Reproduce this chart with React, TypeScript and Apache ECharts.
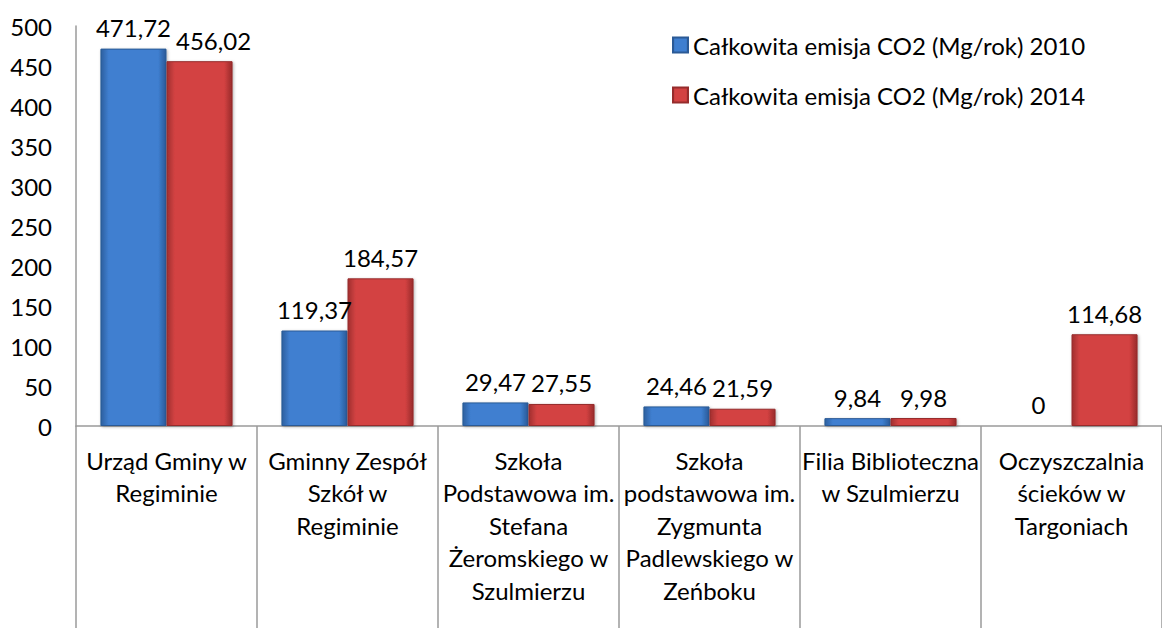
import React, { useEffect, useRef } from "react";
import * as echarts from "echarts";

const categories = [
  "Urząd Gminy w\nRegiminie",
  "Gminny Zespół\nSzkół w\nRegiminie",
  "Szkoła\nPodstawowa im.\nStefana\nŻeromskiego w\nSzulmierzu",
  "Szkoła\npodstawowa im.\nZygmunta\nPadlewskiego w\nZeńboku",
  "Filia Biblioteczna\nw Szulmierzu",
  "Oczyszczalnia\nścieków w\nTargoniach",
];
const series2010 = [471.72, 119.37, 29.47, 24.46, 9.84, 0];
const series2014 = [456.02, 184.57, 27.55, 21.59, 9.98, 114.68];
const seriesNames = [
  "Całkowita emisja CO2 (Mg/rok) 2010",
  "Całkowita emisja CO2 (Mg/rok) 2014",
];

const FONT = "Lato";
const FS = 24;

const fmt = (v: number) => String(v).replace(".", ",");

const grad = (edge: string, mid: string, edge2: string) =>
  new echarts.graphic.LinearGradient(0, 0, 1, 0, [
    { offset: 0, color: edge },
    { offset: 0.12, color: mid },
    { offset: 0.88, color: mid },
    { offset: 1, color: edge2 },
  ]);

export default function App() {
  const ref = useRef<HTMLDivElement>(null);
  useEffect(() => {
    if (!ref.current) return;
    const chart = echarts.init(ref.current, undefined, { renderer: "svg" });
    const labelCfg = {
      show: true,
      position: "top" as const,
      distance: 9,
      fontFamily: FONT,
      fontSize: FS,
      color: "#000",
      formatter: (p: any) => fmt(p.value),
    };
    // Excel nudged the first 2014 label right to avoid overlap
    const data2014 = series2014.map((v, i) =>
      i === 0 ? { value: v, label: { offset: [14, 0] } } : v
    );
    chart.setOption({
      animation: false,
      textStyle: { fontFamily: FONT },
      legend: {
        orient: "vertical",
        left: 667,
        top: 27,
        itemWidth: 15,
        itemHeight: 15,
        itemGap: 24,
        icon: "rect",
        textStyle: { fontFamily: FONT, fontSize: FS, color: "#000", lineHeight: 26 },
        data: seriesNames,
      },
      grid: { left: 76, right: 0, top: 26, bottom: 202, containLabel: false },
      xAxis: {
        type: "category",
        data: categories,
        axisLine: { show: true, lineStyle: { color: "#9a9a9a", width: 1.5 } },
        axisTick: { show: true, length: 202, lineStyle: { color: "#9a9a9a", width: 1.5 } },
        axisLabel: {
          interval: 0,
          margin: 18,
          fontFamily: FONT,
          fontSize: FS,
          lineHeight: 32.5,
          color: "#000",
        },
      },
      yAxis: {
        type: "value",
        min: 0,
        max: 500,
        interval: 50,
        axisLine: { show: true, lineStyle: { color: "#9a9a9a", width: 1.5 } },
        axisTick: { show: false },
        splitLine: { show: false },
        axisLabel: { margin: 24, fontFamily: FONT, fontSize: FS, color: "#000" },
      },
      series: [
        {
          name: seriesNames[0],
          type: "bar",
          data: series2010,
          barGap: "0%",
          barCategoryGap: "27%",
          itemStyle: {
            color: grad("#2c5f9f", "#3f7fd0", "#2a5a98"),
            borderColor: "#2b5a96",
            borderWidth: 1,
            shadowColor: "rgba(0,0,0,0.3)",
            shadowBlur: 3,
            shadowOffsetX: 1,
            shadowOffsetY: 1,
          },
          label: labelCfg,
        },
        {
          name: seriesNames[1],
          type: "bar",
          data: data2014,
          itemStyle: {
            color: grad("#a13030", "#d34242", "#982b2b"),
            borderColor: "#962c2c",
            borderWidth: 1,
            shadowColor: "rgba(0,0,0,0.3)",
            shadowBlur: 3,
            shadowOffsetX: 1,
            shadowOffsetY: 1,
          },
          label: labelCfg,
        },
      ],
    });
    return () => chart.dispose();
  }, []);
  return (
    <div
      ref={ref}
      style={{ width: 1162, height: 628, position: "absolute", left: 0, top: 0 }}
    />
  );
}
